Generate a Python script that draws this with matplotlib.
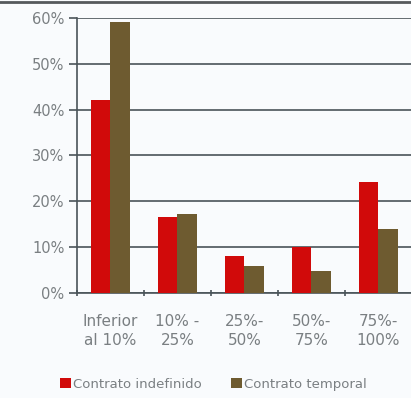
import numpy as np
import matplotlib.pyplot as plt

categories = ['Inferior\nal 10%', '10% -\n25%', '25%-\n50%', '50%-\n75%', '75%-\n100%']
indefinido = [42, 16.5, 8, 10, 24.3]
temporal = [59, 17.3, 5.8, 4.8, 14]
yticks = [0, 10, 20, 30, 40, 50, 60]

red = '#d10a0a'
brown = '#6e5b30'
grid = '#4a5459'
txt = '#7a7f82'

fig = plt.figure(figsize=(4.11, 3.98), dpi=100, facecolor='#f9fbfd')
ax = fig.add_axes([0.187, 0.264, 0.815, 0.691])
ax.set_facecolor('#f9fbfd')

x = np.arange(len(categories))
w = 0.29
ax.bar(x - w/2, indefinido, w, color=red, zorder=3, label='Contrato indefinido')
ax.bar(x + w/2, temporal, w, color=brown, zorder=3, label='Contrato temporal')

ax.set_ylim(0, 60)
ax.set_xlim(-0.5, 4.5)
ax.set_yticks(yticks)
ax.set_yticklabels([f'{v}%' for v in yticks], color=txt, fontsize=10.5)
for v in yticks:
    ax.axhline(v, color=grid, lw=1.2, zorder=1)

ax.set_xticks(np.arange(-0.5, 5, 1))
ax.set_xticklabels([])
ax.tick_params(axis='x', length=5, width=1.2, color=grid, direction='inout')
ax.tick_params(axis='y', length=6, width=1.2, color=grid, pad=3)
for s in ['top', 'right']:
    ax.spines[s].set_visible(False)
ax.spines['left'].set_color(grid)
ax.spines['left'].set_linewidth(1.2)
ax.spines['bottom'].set_color(grid)
ax.spines['bottom'].set_linewidth(1.2)

for i, c in enumerate(categories):
    ax.text(i, -4.6, c, ha='center', va='top', fontsize=11, color=txt,
            linespacing=1.35, transform=ax.transData)

# top border line of the figure
fig.add_artist(plt.Line2D([0, 1], [0.996, 0.996], color='#55595c', lw=2))

fig.legend(loc='lower center', bbox_to_anchor=(0.52, -0.012), ncol=2, frameon=False,
           fontsize=9.5, labelcolor=txt, handlelength=0.8, handleheight=0.8,
           handletextpad=0.2, columnspacing=2.2)

fig.savefig('out.png', dpi=100, facecolor=fig.get_facecolor())
